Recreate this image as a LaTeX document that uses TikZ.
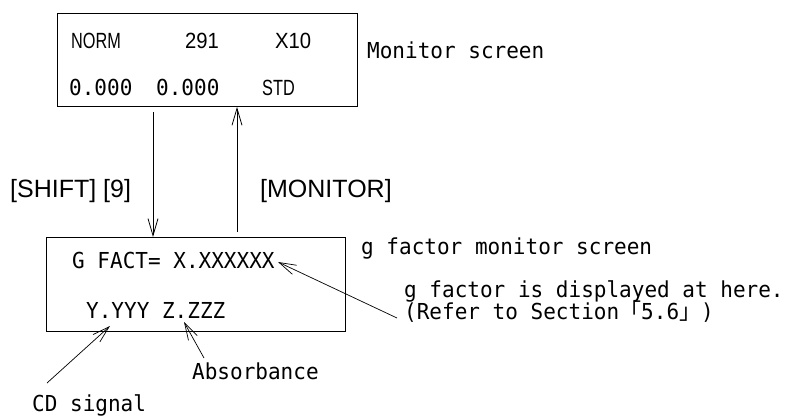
\documentclass[tikz,border=0pt]{standalone}
\usepackage{fontspec}
\setmainfont{Liberation Sans}
\newfontfamily\lcdmono[FakeStretch=0.955]{DejaVu Sans Mono}
\newfontfamily\lcdnarrow[FakeStretch=0.74]{Liberation Sans}
\newfontfamily\lcdsans[FakeStretch=0.92]{Liberation Sans}
\newfontfamily\cjkfont{Noto Sans CJK JP}
\usetikzlibrary{arrows.meta}

\begin{document}
\begin{tikzpicture}[x=1pt,y=-1pt,
  screen/.style={draw, line width=0.9pt, inner sep=0pt, anchor=north west},
  mono/.style={anchor=base west, inner sep=0pt, font=\fontsize{22}{21}\lcdmono},
  lcdtext/.style={anchor=base west, inner sep=0pt, font=\fontsize{22}{22}\lcdsans},
  lcdnarrowtext/.style={anchor=base west, inner sep=0pt, font=\fontsize{22}{22}\lcdnarrow},
  keylabel/.style={anchor=base west, inner sep=0pt, font=\fontsize{25}{25}\selectfont},
  flow/.style={line width=0.8pt, -{Straight Barb[length=17pt,width=10pt,line width=0.8pt]}},
  pointer/.style={line width=0.7pt, -{Straight Barb[length=17pt,width=10pt,line width=0.7pt]}},
]
\useasboundingbox (0,0) rectangle (788,418);

% monitor screen
\node[screen, minimum width=300pt, minimum height=93pt] (mon) at (57,13) {};
\node[lcdnarrowtext] (norm) at (71,48) {NORM};
\node[lcdtext] (wl) at (185,48) {291};
\node[lcdtext] (gain) at (275,48) {X10};
\node[mono] (cd0) at (69,95) {0.000};
\node[mono] (ab0) at (156,95) {0.000};
\node[lcdnarrowtext] (std) at (262,95) {STD};
\node[mono] (monlbl) at (367,58.5) {Monitor screen};

% g factor monitor screen
\node[screen, minimum width=299pt, minimum height=94pt] (gscr) at (46,237) {};
\node[mono] (gfact) at (72,268.5) {G FACT= X.XXXXXX};
\node[mono] (yz) at (86,318.5) {Y.YYY Z.ZZZ};
\node[mono] (gscrlbl) at (361,254) {g factor monitor screen};

% key operations
\coordinate (dn) at (153,112);
\coordinate (up) at (237,232);
\draw[flow] (dn) -- (dn |- gscr.north);
\draw[flow] (up) -- (up |- mon.south);
\node[keylabel] (shift) at (10,197) {[SHIFT] [9]};
\node[keylabel] (moni) at (260,197) {[MONITOR]};

% annotations
\node[mono, align=left, anchor=north west] (note) at (404,280)
  {g factor is displayed at here.\\[-1.5pt](Refer to Section{\cjkfont 「}5.6{\cjkfont 」})};
\coordinate (notetail) at (397,318);
\coordinate (gftip) at (278,262);
\draw[pointer] (notetail) -- (gftip);

\node[mono] (cdlbl) at (32,411) {CD signal};
\coordinate (cdtail) at (47,383);
\coordinate (cdtip) at (110,326);
\draw[pointer] (cdtail) -- (cdtip);

\node[mono] (abslbl) at (192,379) {Absorbance};
\coordinate (abstail) at (204,358);
\coordinate (abstip) at (184,322);
\draw[pointer] (abstail) -- (abstip);
\end{tikzpicture}
\end{document}
